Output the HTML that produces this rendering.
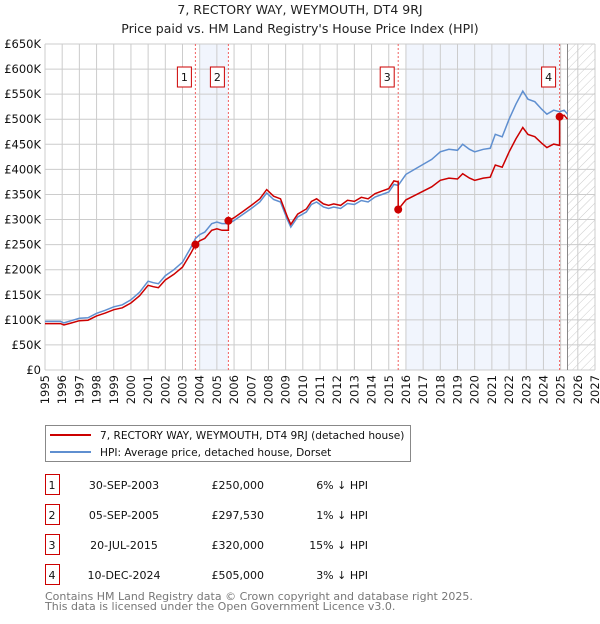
<!DOCTYPE html>
<html><head><meta charset="utf-8"><style>
body{margin:0;background:#fff;font-family:"DejaVu Sans","Liberation Sans",sans-serif;}
svg text{font-family:"DejaVu Sans","Liberation Sans",sans-serif;}
</style></head><body>
<svg id="c" width="600" height="620" xmlns="http://www.w3.org/2000/svg">
<defs><pattern id="hatch" width="6" height="6" patternUnits="userSpaceOnUse" patternTransform="rotate(45)"><line x1="0" y1="0" x2="0" y2="6" stroke="#ccc" stroke-width="1"/></pattern></defs>
<text x="300" y="14" text-anchor="middle" font-size="12.5" fill="#222">7, RECTORY WAY, WEYMOUTH, DT4 9RJ</text>
<text x="300" y="33" text-anchor="middle" font-size="12.5" fill="#222">Price paid vs. HM Land Registry's House Price Index (HPI)</text>
<g id="plot"></g>
<g>
<rect x="45.5" y="425.5" width="365" height="36" fill="#fff" stroke="#888"/>
<line x1="50" y1="435" x2="91" y2="435" stroke="#cc0000" stroke-width="2"/>
<text x="100" y="439" font-size="10.6" fill="#111">7, RECTORY WAY, WEYMOUTH, DT4 9RJ (detached house)</text>
<line x1="50" y1="452" x2="91" y2="452" stroke="#5f8fd0" stroke-width="2"/>
<text x="100" y="456" font-size="10.6" fill="#111">HPI: Average price, detached house, Dorset</text>
</g>
<g id="table" font-size="11" fill="#111"></g>
<text x="45" y="600" font-size="11" fill="#777">Contains HM Land Registry data © Crown copyright and database right 2025.</text>
<text x="45" y="610" font-size="11" fill="#777">This data is licensed under the Open Government Licence v3.0.</text>
</svg>
<script>
const yTicks=[0,50,100,150,200,250,300,350,400,450,500,550,600,650];
const xYears=[1995,1996,1997,1998,1999,2000,2001,2002,2003,2004,2005,2006,2007,2008,2009,2010,2011,2012,2013,2014,2015,2016,2017,2018,2019,2020,2021,2022,2023,2024,2025,2026,2027];
const hpiT=[1995,1995.9,1996.1,1996.5,1997,1997.5,1998,1998.5,1999,1999.5,2000,2000.5,2001,2001.3,2001.6,2002,2002.5,2003,2003.5,2003.75,2004,2004.3,2004.7,2005,2005.3,2005.67,2006,2006.5,2007,2007.5,2007.9,2008.3,2008.7,2009.1,2009.3,2009.7,2010.2,2010.5,2010.8,2011.2,2011.5,2011.8,2012.2,2012.6,2013,2013.4,2013.8,2014.2,2014.6,2015,2015.3,2015.55,2016,2016.5,2017,2017.5,2018,2018.5,2019,2019.3,2019.7,2020,2020.5,2020.9,2021.2,2021.6,2022,2022.4,2022.8,2023.1,2023.5,2023.9,2024.2,2024.6,2024.94,2025.2,2025.4];
const hpiV=[97,97,94,98,103,104,113,119,126,130,140,155,177,174,172,188,200,215,245,262,270,275,292,295,292,292,298,310,322,335,353,340,335,300,285,305,315,330,335,325,322,325,322,332,330,338,335,345,350,355,370,368,390,400,410,420,435,440,438,450,440,435,440,442,470,465,500,530,556,540,535,520,510,518,515,518,510];
const saleT=[2003.75,2005.67,2015.55,2024.94];
const saleV=[250,297.53,320,505];
const saleLbl=["1","2","3","4"];
const saleDate=["30-SEP-2003","05-SEP-2005","20-JUL-2015","10-DEC-2024"];
const salePrice=["£250,000","£297,530","£320,000","£505,000"];
const saleDiff=["6% ↓ HPI","1% ↓ HPI","15% ↓ HPI","3% ↓ HPI"];

const X0=45,X1=595,Y0=370,Y1=44;
const x=t=>X0+(t-1995)*(X1-X0)/32;
const y=v=>Y0-v*(Y0-Y1)/650;
const NS="http://www.w3.org/2000/svg";
const g=document.getElementById('plot');
function mk(tag,attrs,parent){const e=document.createElementNS(NS,tag);for(const k in attrs)e.setAttribute(k,attrs[k]);(parent||g).appendChild(e);return e;}
function hpiAt(t){for(let i=1;i<hpiT.length;i++){if(t<=hpiT[i]){const f=(t-hpiT[i-1])/(hpiT[i]-hpiT[i-1]);return hpiV[i-1]+f*(hpiV[i]-hpiV[i-1]);}}return hpiV[hpiV.length-1];}
let r=mk('rect',{x:x(2004),y:Y1,width:x(saleT[1])-x(2004),height:Y0-Y1,fill:'#eef3fc',opacity:0.8});


r=mk('rect',{x:x(2016),y:Y1,width:x(saleT[3])-x(2016),height:Y0-Y1,fill:'#eef3fc',opacity:0.8});


r=mk('rect',{x:x(2025.4),y:Y1,width:X1-x(2025.4),height:Y0-Y1,fill:'url(#hatch)'});


yTicks.forEach(v=>{const l=mk('line',{x1:X0,x2:X1,y1:y(v),y2:y(v),stroke:'#ccc'});


const t=mk('text',{x:X0-4,y:y(v)+4,'text-anchor':'end','font-size':11.5,fill:'#111'});t.textContent=v===0?'£0':'£'+v+'K';

});
xYears.forEach(yr=>{const l=mk('line',{x1:x(yr),x2:x(yr),y1:Y1,y2:Y0,stroke:'#ccc'});


const t=mk('text',{x:0,y:0,'text-anchor':'end','font-size':11.5,fill:'#111',transform:`translate(${x(yr)+4},${Y0+5}) rotate(-90)`});t.textContent=yr;

});
const vl=mk('line',{x1:x(2025.4),x2:x(2025.4),y1:Y1,y2:Y0,stroke:'#888'});


saleT.forEach((t,i)=>{const l=mk('line',{x1:x(t),x2:x(t),y1:Y1,y2:Y0,stroke:'#f06060','stroke-dasharray':'2,2'});

});
let d='';hpiT.forEach((t,i)=>{d+=(i?'L':'M')+x(t).toFixed(1)+','+y(hpiV[i]).toFixed(1);});
let p=mk('path',{d,fill:'none',stroke:'#5f8fd0','stroke-width':1.5});


function ratioAt(t){let k=0;for(let i=0;i<saleT.length;i++)if(t>=saleT[i])k=i;return saleV[k]/hpiAt(saleT[k]);}
let pts=[];hpiT.forEach((t,i)=>pts.push([t,hpiV[i]*ratioAt(t)]));
saleT.forEach((t,i)=>{pts.push([t-0.001,hpiAt(t)*ratioAt(t-0.01)]);pts.push([t,saleV[i]]);});
pts.sort((a,b)=>a[0]-b[0]);
d='';pts.forEach((q,i)=>{d+=(i?'L':'M')+x(q[0]).toFixed(1)+','+y(q[1]).toFixed(1);});
p=mk('path',{d,fill:'none',stroke:'#cc0000','stroke-width':1.5});


saleT.forEach((t,i)=>{const c=mk('circle',{cx:x(t),cy:y(saleV[i]),r:4,fill:'#cc0000'});


const bx=mk('rect',{x:x(t)-18,y:67,width:14,height:20,fill:'#fff',stroke:'#cc0000'});


const tx=mk('text',{x:x(t)-11,y:81,'text-anchor':'middle','font-size':11,fill:'#111'});tx.textContent=saleLbl[i];

});
const tb=document.getElementById('table');
const rowY=[487,517,547,577];
saleLbl.forEach((s,i)=>{const yy=rowY[i];
const b=mk('rect',{x:45.5,y:yy-12.5,width:14,height:20,fill:'#fff',stroke:'#cc0000'},tb);


const cells=[[52,s,'middle'],[124,saleDate[i],'middle'],[264,salePrice[i],'end'],[368,saleDiff[i],'end']];
cells.forEach(c=>{const t=mk('text',{x:c[0],y:yy+2,'text-anchor':c[2]},tb);t.textContent=c[1];

});});
</script>
</body></html>
